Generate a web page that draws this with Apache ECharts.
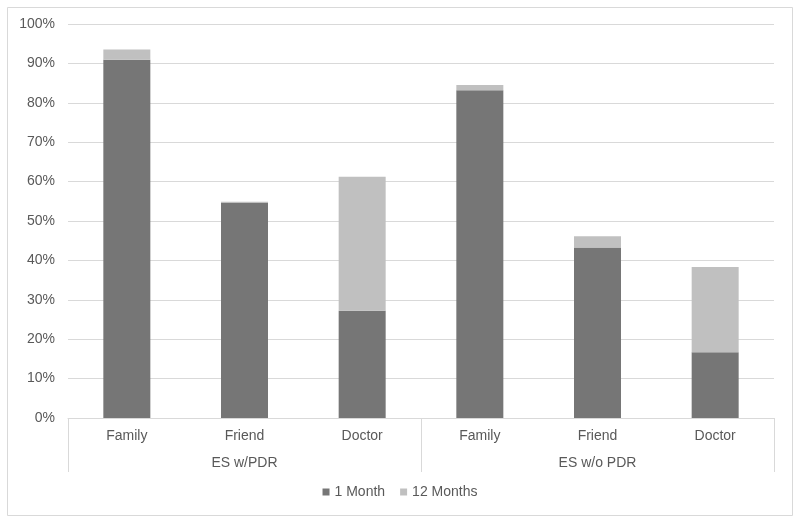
<!DOCTYPE html>
<html>
<head>
<meta charset="utf-8">
<script src="https://cdn.jsdelivr.net/npm/echarts@6/dist/echarts.min.js"></script>
<style>html,body{margin:0;padding:0;background:#fff}#c{width:800px;height:523px}</style>
</head>
<body>
<div id="c"></div>
<script>
var categories = ['Family', 'Friend', 'Doctor', 'Family', 'Friend', 'Doctor'];
var groups = ['ES w/PDR', 'ES w/o PDR'];
var oneMonth = [90.9, 54.6, 27.2, 83.2, 43.3, 16.7];
var twelveMonths = [2.6, 0.3, 34.0, 1.3, 2.8, 21.6];
var yTicks = [0, 10, 20, 30, 40, 50, 60, 70, 80, 90, 100];

var txt = '#595959';
var chart = echarts.init(document.getElementById('c'), null, {renderer: 'canvas'});
chart.setOption({
  animation: false,
  backgroundColor: '#fff',
  textStyle: {fontFamily: 'Liberation Sans, Arial, sans-serif'},
  graphic: [{
    type: 'rect', shape: {x: 7.5, y: 7.5, width: 785, height: 508},
    style: {fill: 'none', stroke: '#d9d9d9', lineWidth: 1}, silent: true, z: -1
  }],
  grid: {left: 68, right: 26, top: 24, bottom: 105},
  legend: {
    bottom: 19, left: 'center', icon: 'rect', itemWidth: 7, itemHeight: 7, itemGap: 15,
    textStyle: {color: txt, fontSize: 14, fontFamily: 'Liberation Sans, Arial, sans-serif'},
    data: ['1 Month', '12 Months']
  },
  xAxis: [{
    type: 'category', data: categories, position: 'bottom',
    axisLine: {show: false}, axisTick: {show: false},
    axisLabel: {color: txt, fontSize: 14, margin: 11, interval: 0}
  }, {
    type: 'category', data: groups, position: 'bottom', gridIndex: 0,
    axisLine: {show: true, lineStyle: {color: '#d9d9d9', width: 1}},
    axisTick: {show: true, length: 54, interval: 0, lineStyle: {color: '#d9d9d9'}},
    axisLabel: {color: txt, fontSize: 14, margin: 38, interval: 0}
  }],
  yAxis: {
    type: 'value', min: yTicks[0], max: yTicks[yTicks.length - 1], interval: 10,
    axisLine: {show: false}, axisTick: {show: false},
    axisLabel: {color: txt, fontSize: 14, margin: 13, formatter: '{value}%'},
    splitLine: {lineStyle: {color: '#d9d9d9', width: 1}}
  },
  series: [{
    name: '1 Month', type: 'bar', stack: 'a', xAxisIndex: 0, data: oneMonth,
    barWidth: 47, itemStyle: {color: '#767676'}
  }, {
    name: '12 Months', type: 'bar', stack: 'a', xAxisIndex: 0, data: twelveMonths,
    barWidth: 47, itemStyle: {color: '#c0c0c0'}
  }]
});
</script>
</body>
</html>
